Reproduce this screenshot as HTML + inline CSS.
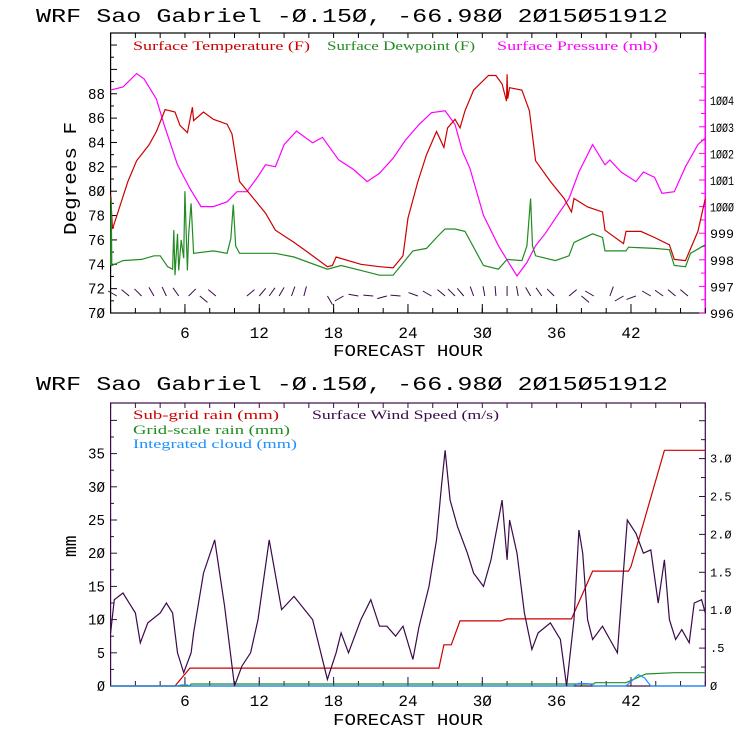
<!DOCTYPE html>
<html><head><meta charset="utf-8"><style>
body{margin:0;background:#fff}
svg{display:block}
text{font-family:"Liberation Mono",monospace}
.s{font-family:"Liberation Serif",serif;font-size:13px}
</style></head><body>
<svg id="c" width="740" height="740" viewBox="0 0 740 740">
<text x="36" y="22" font-size="19" textLength="632" lengthAdjust="spacingAndGlyphs">WRF  Sao Gabriel   -Ø.15Ø, -66.98Ø  2Ø15Ø51912</text>
<text x="36" y="390" font-size="19" textLength="632" lengthAdjust="spacingAndGlyphs">WRF  Sao Gabriel   -Ø.15Ø, -66.98Ø  2Ø15Ø51912</text>
<text class="s" x="133" y="50" fill="#cc0000" textLength="177" lengthAdjust="spacingAndGlyphs">Surface Temperature (F)</text>
<text class="s" x="327" y="50" fill="#228b22" textLength="148" lengthAdjust="spacingAndGlyphs">Surface Dewpoint (F)</text>
<text class="s" x="497" y="50" fill="#ff00ff" textLength="161" lengthAdjust="spacingAndGlyphs">Surface Pressure (mb)</text>
<text class="s" x="133" y="419" fill="#cc0000" textLength="146" lengthAdjust="spacingAndGlyphs">Sub-grid rain (mm)</text>
<text class="s" x="312" y="419" fill="#3a0a4a" textLength="187" lengthAdjust="spacingAndGlyphs">Surface Wind Speed (m/s)</text>
<text class="s" x="133" y="434" fill="#228b22" textLength="157" lengthAdjust="spacingAndGlyphs">Grid-scale rain (mm)</text>
<text class="s" x="133" y="448" fill="#1e90ff" textLength="164" lengthAdjust="spacingAndGlyphs">Integrated cloud (mm)</text>
<text x="0" y="0" font-size="18" textLength="113" lengthAdjust="spacingAndGlyphs" transform="translate(76,235) rotate(-90)">Degrees F</text>
<text x="0" y="0" font-size="18" transform="translate(76,557) rotate(-90)">mm</text>
<text x="408" y="356" font-size="17" text-anchor="middle" textLength="150" lengthAdjust="spacingAndGlyphs">FORECAST HOUR</text>
<text x="408" y="725" font-size="17" text-anchor="middle" textLength="150" lengthAdjust="spacingAndGlyphs">FORECAST HOUR</text>
</svg>
<script>
const tempH=[0,0.15,1.4,2.1,3.1,3.7,4.4,5.2,5.6,6.2,6.6,6.7,7.5,8.3,9.4,9.8,10.4,11.3,12.5,13.3,14.8,15.9,17.5,17.9,18.2,20.2,21.7,22.8,23.6,24,24.8,25.5,26.3,26.9,27.2,27.8,28.2,28.6,29.3,30.5,31.1,31.6,31.95,32.0,32.05,32.2,33.2,33.8,34.3,35.5,36.6,37.2,37.4,38.5,39.7,39.9,41.4,41.6,42.8,43.9,45.1,45.5,46.4,47.4,48];
const tempV=[79.7,76.9,80.8,82.5,83.8,84.9,86.7,86.5,85.4,84.8,86.9,85.8,86.5,85.9,85.5,84.7,80.8,79.7,78.2,76.8,75.8,75,73.8,73.9,74.6,74,73.8,73.7,74.7,77.8,80.8,83,84.9,83.6,85.2,85.9,85.2,86.6,88.3,89.5,89.5,88.8,87.4,89.6,87.6,88.5,88.3,86.6,82.5,80.8,79.4,78.3,79.4,78.7,78.3,76.8,75.7,76.7,76.7,76.2,75.6,74.4,74.3,76.7,79.4];
const dewH=[0,0.05,0.1,1,2.5,3.5,4,4.6,5.0,5.1,5.2,5.4,5.5,5.7,5.9,6.0,6.2,6.3,6.5,6.7,8.3,9.4,9.7,9.9,10.1,10.4,13.3,14.8,17.5,18.6,20.2,21.7,22.8,24.4,25.5,26.5,27,27.8,28.6,30.1,31.3,32,33.2,33.6,33.75,33.9,34.05,34.3,35.9,37,37.4,38.9,39.7,39.9,41.6,41.8,43.9,45.1,45.5,46.4,46.8,48];
const dewV=[73.9,79.5,73.9,74.3,74.4,74.7,74.7,73.8,73.6,76.8,73.1,76.5,73.5,76,74.5,80,73.5,76.5,79,74.9,75.1,74.9,76.1,78.9,75.5,74.9,74.9,74.6,73.6,73.9,73.5,73.1,73.1,75.1,75.3,76.4,76.9,76.9,76.7,73.9,73.6,74.4,74.3,75.5,77.5,79.4,75.5,74.7,74.3,74.7,75.8,76.5,76.2,75.1,75.1,75.4,75.3,75.2,73.9,73.8,74.9,75.6];
const presH=[0,1,2.1,2.7,3.7,4.3,5.4,6.4,7.3,8.3,9.4,10.2,11,11.9,12.5,13.3,14,15,16.3,17.1,18.4,19.6,20.7,21.7,22.8,23.8,24.9,25.9,27,27.8,28.4,29,30.1,31.3,32.2,32.8,33.6,34.3,35.1,36.1,37,37.8,38.9,39.9,40.3,41.2,42.4,43,43.9,44.5,45.5,46.4,47.4,48];
const presV=[1004.38,1004.5,1005,1004.8,1004.04,1003.1,1001.57,1000.68,1000,1000,1000.18,1000.56,1000.56,1001.13,1001.57,1001.5,1002.33,1002.84,1002.4,1002.6,1001.76,1001.4,1000.94,1001.25,1001.82,1002.5,1003.09,1003.53,1003.6,1003.09,1002.07,1001.44,999.67,998.53,997.84,997.39,997.9,998.53,999,999.7,1000.3,1001.3,1002.33,1001.57,1001.75,1001.3,1000.94,1001.3,1001.1,1000.5,1000.56,1001.5,1002.33,1002.58];
const windH=[0,0.3,1,2,2.4,3,4,4.5,5,5.4,5.9,6.5,6.7,7.5,8.4,9.2,10,10.6,11.3,11.9,12.8,13.8,14.8,16.3,17.5,18.2,18.6,19.2,20.2,21,21.7,22.3,23,23.6,24.4,24.9,25.7,26.3,26.7,27,27.4,28,28.8,29.3,30.1,30.7,31.6,32,32.2,32.8,33.4,34,34.5,35.5,36.3,36.8,37.4,37.8,38.1,38.5,38.9,39.7,40.3,40.9,41.7,42.4,43,43.6,44.2,44.7,45.1,45.6,46.1,46.7,47.1,47.7,48];
const windMM=[8,13,14,11,6.5,9.5,11,12.5,11,5,2,5,8,17,22,12,0,3,5,10,22,11.5,13.5,10,1,5,8,5,10,13,9,9,7.5,9,4,9,15,22,30,35.5,28,24,20,17,15,19,28,19,25,20,11,5.5,8,9.5,7,0,10,23.5,20,10,7,9,7,5,25,23,20,20.5,12.5,19,10,7,8.5,6.5,12.5,13,11];
const subH=[0,5.2,6.4,26.5,26.9,27.5,28.2,31.5,32,37.2,38.9,41.8,42,44.7,48];
const subV=[0,0,2.7,2.7,6.2,6.2,9.8,9.8,10.1,10.1,17.3,17.3,18,35.5,35.5];
const gridH=[0,6.4,6.5,39,39.1,41.6,43.2,45.5,48];
const gridV=[0,0,0.3,0.3,0.5,0.5,1.8,2.0,2.0];
const cloudH=[0,5.4,5.7,6.2,6.4,37.3,37.8,38.6,39,41.6,42.2,42.6,43.1,43.6,48];
const cloudV=[0,0,0.15,0.15,0,0,0.4,0.35,0,0,1.0,1.7,1.2,0,0];
const barbH=[0.5,1.5,2.5,3.5,4.5,5.5,6.3,7.2,8.5,11,12,12.8,13.6,14.6,15.6,17.5,18.8,20,21.2,22.3,23.4,24.8,25.9,27,27.8,28.5,29.3,30.2,31.1,32,32.9,33.9,34.8,35.8,37,38,39,40.3,41.4,42.4,43.6,44.6,45.6,46.6];
const barbA=[150,140,135,120,115,125,45,-40,140,40,50,55,60,70,75,-60,-150,170,175,-165,175,160,150,140,135,130,110,100,95,90,100,120,125,135,40,-40,150,70,-150,-160,150,145,140,140];

const NS='http://www.w3.org/2000/svg';
const svg=document.getElementById('c');
function mk(tag,attrs){const e=document.createElementNS(NS,tag);for(const k in attrs)e.setAttribute(k,attrs[k]);svg.appendChild(e);return e;}
const X0=110.6,PXH=12.39;
const xs=h=>X0+h*PXH;
const yT=v=>313-(v-70)*12.18;
const yP=v=>313-(v-996)*26.6;
const yMM=v=>686-v*6.64;
const yMS=v=>686-v*75.8;
function line(H,V,fx,fy,col,name){let d='';for(let i=0;i<H.length;i++)d+=(i?'L':'M')+fx(H[i]).toFixed(1)+','+fy(V[i]).toFixed(1);const p=mk('path',{d:d,fill:'none',stroke:col,'stroke-width':1.2});

}
const f1=mk('rect',{x:110.6,y:33,width:594.7,height:280,fill:'none',stroke:'#000','stroke-width':1.2});


const pa=mk('line',{x1:705.3,y1:33,x2:705.3,y2:313,stroke:'#ff00ff','stroke-width':1.5});


const f2=mk('rect',{x:110.6,y:403,width:594.7,height:283,fill:'none',stroke:'#3a0a4a','stroke-width':1.2});


function tick(x1,y1,x2,y2,c){const t=mk('line',{x1:x1,y1:y1,x2:x2,y2:y2,stroke:c,'stroke-width':1});

}
function lab(x,y,s,anchor,name,size,len){const a={x:x,y:y,'text-anchor':anchor,'font-size':size||15};if(len){a.textLength=len;a.lengthAdjust='spacingAndGlyphs';}const t=mk('text',a);t.textContent=s;

}
const z=v=>String(v).replace(/0/g,'Ø');
for(let h=0;h<=48;h+=2){tick(xs(h),313,xs(h),308,'#000');tick(xs(h),33,xs(h),38,'#000');tick(xs(h),686,xs(h),681,'#3a0a4a');tick(xs(h),403,xs(h),408,'#3a0a4a');}
for(let h=6;h<=42;h+=6){lab(xs(h),338,z(h),'middle','x-tick-label',16);lab(xs(h),706,z(h),'middle','x-tick-label',16);tick(xs(h),313,xs(h),304,'#000');tick(xs(h),686,xs(h),677,'#3a0a4a');}
for(let v=70;v<=92;v++){tick(110.6,yT(v),v%2?114:117,yT(v),'#000');}
for(let v=70;v<=88;v+=2)lab(105,yT(v)+5,z(v),'end','y-tick-label',15,17);
for(let v=996;v<=1005;v+=0.5){tick(705.3,yP(v),v%1?701:699,yP(v),'#ff00ff');}
for(let v=996;v<=1004;v++)lab(710,yP(v)+5,z(v),'start','pressure-tick-label',13,24);
for(let v=0;v<=40;v+=2.5){if(yMM(v)<403)break;tick(110.6,yMM(v),v%5?114:117,yMM(v),'#3a0a4a');}
for(let v=0;v<=35;v+=5)lab(105,yMM(v)+5,z(v),'end','mm-tick-label',15,v<10?8:17);
for(let v=0;v<=3.5;v+=0.25){if(yMS(v)<403)break;tick(705.3,yMS(v),v%0.5?701:699,yMS(v),'#3a0a4a');}
['Ø','.5','1.Ø','1.5','2.Ø','2.5','3.Ø'].forEach((s,i)=>lab(710,yMS(i*0.5)+4,s,'start','wind-tick-label',12));
line(presH,presV,xs,yP,'#ff00ff','pressure-line');
line(tempH,tempV,xs,yT,'#cc0000','temperature-line');
line(dewH,dewV,xs,yT,'#228b22','dewpoint-line');
for(let i=0;i<barbH.length;i++){const a=barbA[i]*Math.PI/180,cx=xs(barbH[i]),cy=296,L=10;
const b=mk('line',{x1:cx,y1:cy,x2:cx+L*Math.cos(a),y2:cy-L*Math.sin(a),stroke:'#3a0a4a','stroke-width':1});

}
line(subH,subV,xs,yMM,'#cc0000','subgrid-rain-line');
line(gridH,gridV,xs,yMM,'#228b22','grid-rain-line');
line(cloudH,cloudV,xs,yMM,'#1e90ff','cloud-line');
line(windH,windMM.map(v=>v*0.0876),xs,yMS,'#3a0a4a','wind-speed-line');
</script>
</body></html>
